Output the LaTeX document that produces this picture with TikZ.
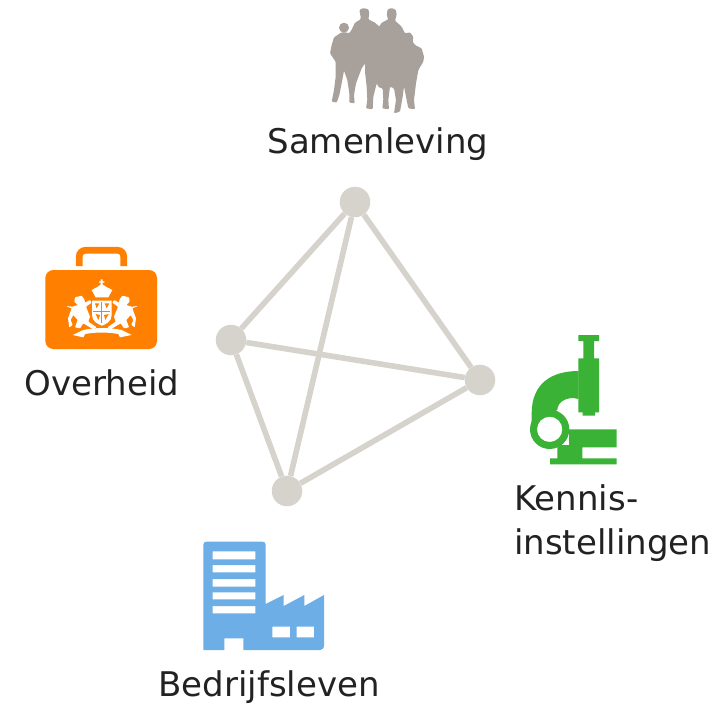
\documentclass[tikz,border=0pt]{standalone}
\usepackage{fontspec}
\setmainfont{DejaVu Sans}
\definecolor{netc}{HTML}{D5D3CB}
\definecolor{peoplec}{HTML}{A8A09A}
\definecolor{orangec}{HTML}{FF7F00}
\definecolor{greenc}{HTML}{39B236}
\definecolor{bluec}{HTML}{6CAEE5}
\definecolor{textc}{HTML}{222222}
\tikzset{
  hub/.style={circle,fill=netc,minimum size=30.5pt,inner sep=0pt},
  link/.style={draw=netc,line width=5.6pt},
  lbl/.style={text=textc,font=\fontsize{34}{46}\selectfont,inner sep=0pt},
  icon/.style={scale=1/3}
}
\begin{document}
\begin{tikzpicture}[x=1pt,y=-1pt]
\useasboundingbox (0,0) rectangle (712,705);
% network
\node[hub] (a) at (355,202) {};
\node[hub] (b) at (231,340) {};
\node[hub] (c) at (480,380) {};
\node[hub] (d) at (287,491) {};
\draw[link] (a)--(b);
\draw[link] (a)--(c);
\draw[link] (a)--(d);
\draw[link] (b)--(c);
\draw[link] (b)--(d);
\draw[link] (c)--(d);
% labels
\node[lbl] (samen) at (378,144) {Samenleving};
\node[lbl] (over) at (102,383) {Overheid};
\node[lbl,anchor=base west] (kennis) at (514,510) {Kennis-};
\node[lbl,anchor=base west] (inst) at (514,554) {instellingen};
\node[lbl,anchor=base] (bedr) at (269,696.7) {Bedrijfsleven};
% people
\begin{scope}[shift={(320,0)},icon]
\fill[peoplec] (72,83) circle (15);
\fill[peoplec,rounded corners=1pt] (65,97)--(60,100)--(42,112)--(35,135)--(30,160)--(42,178)--(47,185)--(47,230)--(42,270)--(35,305)--(50,308)--(58,285)--(65,250)--(72,212)--(82,240)--(88,280)--(88,308)--(104,310)--(102,285)--(108,250)--(125,205)--(135,190)--(135,215)--(140,260)--(142,300)--(138,325)--(158,328)--(160,290)--(170,250)--(176,262)--(188,265)--(190,300)--(187,325)--(207,328)--(205,300)--(210,260)--(222,265)--(228,300)--(222,340)--(240,335)--(248,290)--(252,260)--(258,290)--(265,325)--(285,328)--(282,300)--(288,250)--(295,210)--(310,185)--(312,170)--(305,145)--(285,135)--(278,125)--(280,110)--(270,97)--(255,100)--(245,80)--(225,62)--(230,45)--(228,30)--(215,24)--(203,28)--(200,45)--(205,58)--(185,68)--(178,80)--(165,68)--(145,58)--(148,40)--(145,28)--(130,24)--(118,30)--(122,50)--(122,58)--(105,68)--(92,95)--(85,100)--(78,97)--cycle;
\end{scope}
% case
\begin{scope}[shift={(30,240)},icon]
\draw[orangec,line width=6.7pt,rounded corners=6pt] (148,78)--(148,31)--(281,31)--(281,78);
\fill[orangec,rounded corners=8pt] (46,90) rectangle (381,327);
\begin{scope}[white]
\fill (212,118) rectangle (218,140) (207,124) rectangle (223,128);
\fill (197,172)--(185,150)--(200,142)--(215,132)--(231,142)--(247,150)--(235,172)--cycle;
\fill (186,182)--(245,182)--(245,225) .. controls (245,245) and (228,252) .. (216,257) .. controls (204,252) and (186,245) .. (186,225)--cycle;
\fill[orangec] (214,186) rectangle (217,250);
\fill[orangec] (190,212) rectangle (241,215);
\fill[orangec] (195,190)--(208,190)--(200,205)--cycle (224,190)--(238,190)--(230,205)--cycle (197,222)--(210,225)--(205,240)--cycle (222,225)--(236,222)--(226,240)--cycle;
% left lion
\fill[rounded corners=.6pt] (135,172)--(155,167)--(163,178)--(165,188)--(180,180)--(185,188)--(168,200)--(180,230)--(175,245)--(200,262)--(190,268)--(160,250)--(150,265)--(135,262)--(143,240)--(130,225)--(122,240)--(128,255)--(118,262)--(114,235)--(125,205)--(108,198)--(128,200)--(143,195)--(133,185)--cycle;
% right lion
\fill[rounded corners=.6pt] (297,172)--(277,167)--(269,178)--(267,188)--(252,180)--(247,188)--(264,200)--(252,230)--(257,245)--(232,262)--(242,268)--(272,250)--(282,265)--(297,262)--(289,240)--(302,225)--(310,240)--(304,255)--(314,262)--(318,235)--(307,205)--(324,198)--(304,200)--(289,195)--(299,185)--cycle;
% ribbon
\fill (160,270) .. controls (200,262) and (235,262) .. (275,270)--(305,285)--(270,292)--(265,282) .. controls (230,276) and (200,276) .. (165,282)--(160,292)--(128,285)--cycle;
\end{scope}
\end{scope}
% microscope
\begin{scope}[shift={(520,325)},icon]
\fill[greenc] (175,30) rectangle (237,48) (190,48) rectangle (222,100) (175,100) rectangle (237,262) (188,262) rectangle (225,272);
\fill[greenc] (176,138) .. controls (95,138) and (35,175) .. (35,265)--(35,300)--(112,255) .. controls (112,232) and (140,212) .. (176,222)--cycle;
\fill[greenc] (147,313) rectangle (290,367) (112,360) rectangle (187,400) (90,400) rectangle (290,418);
\fill[greenc,even odd rule] (89,313) circle (59) (89,313) circle (38);
\end{scope}
% building
\begin{scope}[shift={(195,530)},icon]
\fill[bluec,even odd rule,rounded corners=0pt]
 (25,360)--(25,45) .. controls (25,38) and (28,35) .. (35,35)--(202,35) .. controls (209,35) and (212,38) .. (212,45)--(212,222)--(266,195)--(266,228)--(328,195)--(328,228)--(387,195)--(387,345) .. controls (387,355) and (382,360) .. (372,360)--(145,360)--(145,325)--(88,325)--(88,360)--cycle
 (53,64) rectangle (181,88) (53,105) rectangle (181,127) (53,147) rectangle (181,170) (53,187) rectangle (181,208) (53,228) rectangle (181,250)
 (232,290) rectangle (285,322) (305,290) rectangle (357,322);
\end{scope}
\end{tikzpicture}
\end{document}
